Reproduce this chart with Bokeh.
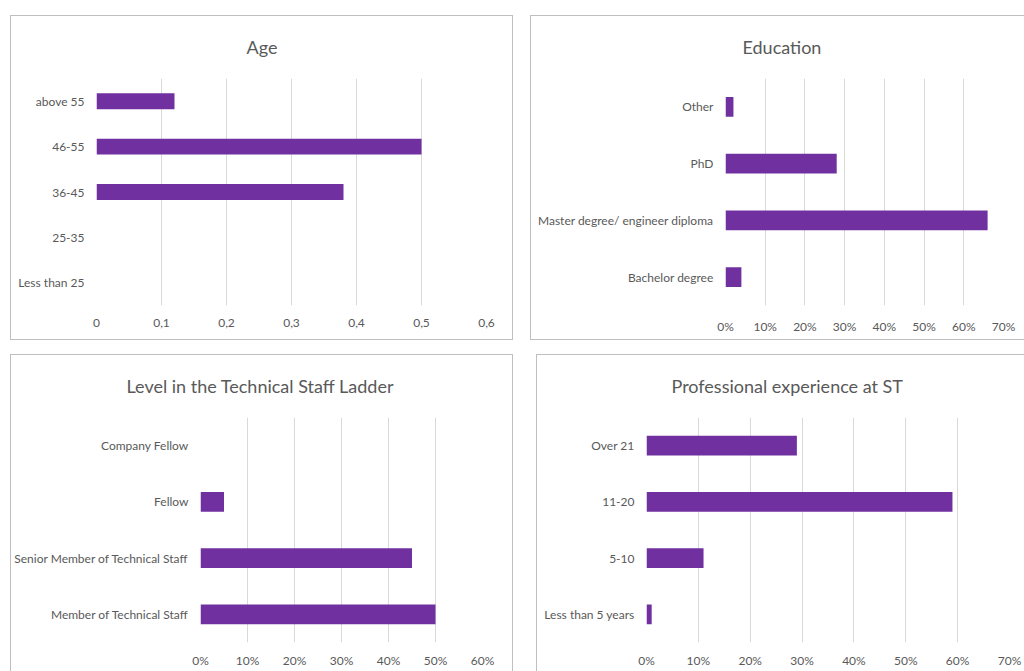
from bokeh.plotting import figure
from bokeh.layouts import column, row
from bokeh.models import Spacer, FixedTicker, CustomJSTickFormatter, Title, FactorRange, Range1d
from bokeh.embed import file_html
from bokeh.resources import INLINE

# ---------------- data ----------------
age_cats = ["Less than 25", "25-35", "36-45", "46-55", "above 55"]
age_vals = [0.0, 0.0, 0.38, 0.50, 0.12]
age_ticks = [0, 0.1, 0.2, 0.3, 0.4, 0.5, 0.6]
age_tick_labels = ["0", "0,1", "0,2", "0,3", "0,4", "0,5", "0,6"]

edu_cats = ["Bachelor degree", "Master degree/ engineer diploma", "PhD", "Other"]
edu_vals = [4, 66, 28, 2]
edu_ticks = [0, 10, 20, 30, 40, 50, 60, 70]
edu_tick_labels = ["0%", "10%", "20%", "30%", "40%", "50%", "60%", "70%"]

lvl_cats = ["Member of Technical Staff", "Senior Member of Technical Staff", "Fellow", "Company Fellow"]
lvl_vals = [50, 45, 5, 0]
lvl_ticks = [0, 10, 20, 30, 40, 50, 60]
lvl_tick_labels = ["0%", "10%", "20%", "30%", "40%", "50%", "60%"]

exp_cats = ["Less than 5 years", "5-10", "11-20", "Over 21"]
exp_vals = [1, 11, 59, 29]
exp_ticks = [0, 10, 20, 30, 40, 50, 60, 70]
exp_tick_labels = ["0%", "10%", "20%", "30%", "40%", "50%", "60%", "70%"]

FONT = "Lato"
TEXT = "#595959"
BAR = "#7030A0"
GRID = "#d9d9d9"
EDGE = "#bfbfbf"


def panel(title, cats, vals, ticks, labels, width, height, bl, br, bt, bb,
          title_offset, shadow, x_standoff=13):
    p = figure(width=width, height=height,
               y_range=FactorRange(*cats),
               x_range=Range1d(ticks[0], ticks[-1]),
               output_backend="svg", toolbar_location=None,
               min_border_left=bl, min_border_right=br,
               min_border_top=bt, min_border_bottom=bb)
    p.title = Title(text=title, align="left", offset=title_offset,
                    vertical_align="middle",
                    text_font=FONT, text_font_size="18px",
                    text_font_style="normal", text_color=TEXT,
                    standoff=39)
    p.hbar(y=cats, right=vals, left=0, height=0.35,
           fill_color=BAR, line_color=None)
    p.border_fill_color = None
    p.background_fill_color = None
    p.outline_line_color = None
    p.styles = {"box-shadow": shadow}

    p.xaxis.ticker = FixedTicker(ticks=ticks)
    p.xaxis.formatter = CustomJSTickFormatter(
        args=dict(tick_values=ticks, tick_texts=labels),
        code="""
        for (let j = 0; j < tick_values.length; j++) {
            if (Math.abs(tick_values[j] - tick) < 1e-9) return tick_texts[j];
        }
        return "";
        """)
    for ax in (p.xaxis[0], p.yaxis[0]):
        ax.axis_line_color = None
        ax.major_tick_line_color = None
        ax.minor_tick_line_color = None
        ax.major_tick_out = 0
        ax.major_tick_in = 0
        ax.major_label_text_font = FONT
        ax.major_label_text_font_size = "12px"
        ax.major_label_text_color = TEXT
    p.xaxis.major_label_standoff = x_standoff
    p.yaxis.major_label_standoff = 12

    p.xgrid.grid_line_color = GRID
    p.xgrid.ticker = FixedTicker(ticks=ticks)
    p.ygrid.grid_line_color = None
    return p


ALL = "inset 0 0 0 1px " + EDGE
NO_RIGHT = f"inset 1px 0 0 0 {EDGE}, inset 0 1px 0 0 {EDGE}, inset 0 -1px 0 0 {EDGE}"
NO_BOTTOM = f"inset 1px 0 0 0 {EDGE}, inset 0 1px 0 0 {EDGE}, inset -1px 0 0 0 {EDGE}"
TOP_LEFT = f"inset 1px 0 0 0 {EDGE}, inset 0 1px 0 0 {EDGE}"

p1 = panel("Age", age_cats, age_vals, age_ticks, age_tick_labels,
           503, 325, 86, 27, 63, 35, 150, ALL)
p2 = panel("Education", edu_cats, edu_vals, edu_ticks, edu_tick_labels,
           494, 325, 195, 21, 63, 35, 17, NO_RIGHT)
p3 = panel("Level in the Technical Staff Ladder", lvl_cats, lvl_vals, lvl_ticks, lvl_tick_labels,
           503, 317, 190, 31, 63, 29, -74, NO_BOTTOM, x_standoff=10)
p4 = panel("Professional experience at ST", exp_cats, exp_vals, exp_ticks, exp_tick_labels,
           488, 317, 110, 15, 63, 29, 25, TOP_LEFT, x_standoff=10)

top = row(Spacer(width=10), p1, Spacer(width=17), p2)
bot = row(Spacer(width=10), p3, Spacer(width=23), p4)
layout = column(Spacer(height=15), top, Spacer(height=14), bot)

open("out.html", "w").write(file_html(layout, INLINE))
